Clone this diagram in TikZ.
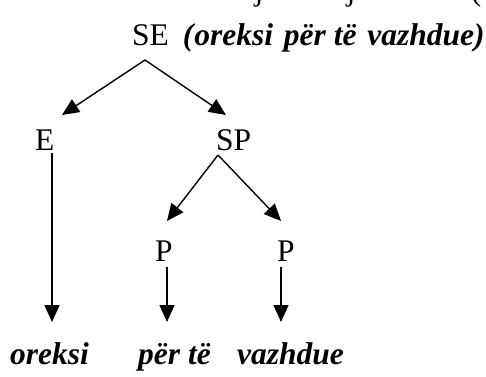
\documentclass[tikz,border=0pt]{standalone}
\usepackage{fontspec}
\setmainfont{Liberation Serif}
\usetikzlibrary{arrows.meta}
\begin{document}
\begin{tikzpicture}[x=1pt,y=-1pt,
  lbl/.style={anchor=base west,inner sep=0pt,font=\fontsize{31.5}{38}\selectfont},
  wrd/.style={anchor=base west,inner sep=0pt,font=\fontsize{31.5}{38}\selectfont\bfseries\itshape},
  arr/.style={line width=1.4pt,-{Triangle[length=17pt,width=15pt]}}]
\useasboundingbox (0,0) rectangle (486,376);
\clip (0,0) rectangle (486,376);
% fragments of the line above (cut off)
\node[lbl,anchor=base] (fa) at (259,0) {j};
\node[lbl,anchor=base] (fb) at (351,0) {j};
\node[lbl,anchor=base] (fc) at (476,0) {(};
% top line
\node[lbl] (se) at (132,45) {SE\ \kern6pt\textbf{\textit{(\kern1pt oreksi\ \kern3pt për\ të\ \kern3pt vazhdue)}}};
\coordinate (seA) at (145,60);
\coordinate (eT) at (62,115);
\coordinate (spT) at (226,115);
\draw[arr] (seA) -- (eT);
\draw[arr] (seA) -- (spT);
% second level
\node[lbl] (e) at (35,150) {E};
\node[lbl] (sp) at (216,150) {SP};
\coordinate (eS) at (52,153);
\coordinate (eE) at (52,322);
\draw[arr] (eS) -- (eE);
\coordinate (spA) at (218,155);
\coordinate (p1T) at (167,221);
\coordinate (p2T) at (281,221);
\draw[arr] (spA) -- (p1T);
\draw[arr] (spA) -- (p2T);
% P level
\node[lbl] (p1) at (155,261) {P};
\node[lbl] (p2) at (277,261) {P};
\coordinate (p1S) at (167,267);
\coordinate (p1E) at (167,322);
\coordinate (p2S) at (281,267);
\coordinate (p2E) at (281,322);
\draw[arr] (p1S) -- (p1E);
\draw[arr] (p2S) -- (p2E);
% words
\node[wrd] (w1) at (10,364) {oreksi};
\node[wrd] (w2) at (138,364) {për të};
\node[wrd] (w3) at (237,364) {vazhdue};
\end{tikzpicture}
\end{document}
